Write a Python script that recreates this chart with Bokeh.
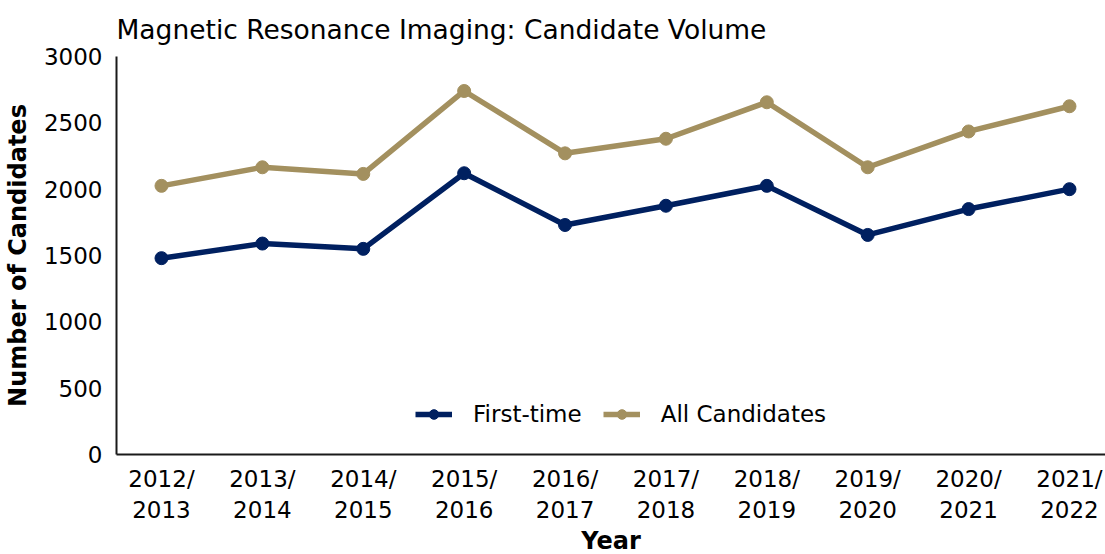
from bokeh.plotting import figure
from bokeh.models import Range1d, FixedTicker, Legend, LegendItem
from bokeh.embed import file_html
from bokeh.resources import INLINE

years = ["2012/\n2013", "2013/\n2014", "2014/\n2015", "2015/\n2016", "2016/\n2017",
         "2017/\n2018", "2018/\n2019", "2019/\n2020", "2020/\n2021", "2021/\n2022"]
first_time = [1480, 1590, 1550, 2120, 1730, 1875, 2025, 1655, 1850, 2000]
all_candidates = [2025, 2165, 2115, 2740, 2270, 2380, 2655, 2165, 2435, 2625]
y_ticks = [0, 500, 1000, 1500, 2000, 2500, 3000]

NAVY = "#002060"
TAN = "#A3905F"
FONT = "DejaVu Sans"

x = list(range(len(years)))

p = figure(frame_width=989, frame_height=398, output_backend="svg", toolbar_location=None,
           x_range=Range1d(-0.446, 9.357), y_range=Range1d(0, 3000),
           min_border_left=108, min_border_right=0, min_border_top=49,
           min_border_bottom=0)

p.title.text = "Magnetic Resonance Imaging: Candidate Volume"
p.title.text_font = FONT
p.title.text_font_size = "26.5px"
p.title.text_font_style = "normal"
p.title.text_color = "#000000"
p.title.standoff = 23
p.title.offset = 0

p.outline_line_color = None
p.xgrid.grid_line_color = None
p.ygrid.grid_line_color = None

l1 = p.line(x, first_time, line_color=NAVY, line_width=5.5)
s1 = p.scatter(x, first_time, size=13, fill_color=NAVY, line_color=NAVY)
l2 = p.line(x, all_candidates, line_color=TAN, line_width=5.5)
s2 = p.scatter(x, all_candidates, size=13, fill_color=TAN, line_color=TAN)

# x axis
xa = p.xaxis[0]
xa.ticker = FixedTicker(ticks=x)
xa.major_label_overrides = {i: lab for i, lab in zip(x, years)}
xa.major_tick_line_color = None
xa.minor_tick_line_color = None
xa.major_tick_out = 0
xa.major_tick_in = 0
xa.minor_tick_out = 0
xa.axis_line_color = "#1a1a1a"
xa.axis_line_width = 2
xa.major_label_text_font = FONT
xa.major_label_text_font_size = "23px"
xa.major_label_text_color = "#000000"
xa.major_label_standoff = 11
xa.axis_label = "Year"
xa.axis_label_text_font = FONT
xa.axis_label_text_font_size = "24px"
xa.axis_label_text_font_style = "bold"
xa.axis_label_text_color = "#000000"
xa.axis_label_standoff = 1

# y axis
ya = p.yaxis[0]
ya.ticker = FixedTicker(ticks=y_ticks)
ya.major_tick_line_color = None
ya.minor_tick_line_color = None
ya.major_tick_out = 0
ya.major_tick_in = 0
ya.minor_tick_out = 0
ya.axis_line_color = "#1a1a1a"
ya.axis_line_width = 2
ya.major_label_text_font = FONT
ya.major_label_text_font_size = "23px"
ya.major_label_text_color = "#000000"
ya.major_label_standoff = 14
ya.axis_label = "Number of Candidates"
ya.axis_label_text_font = FONT
ya.axis_label_text_font_size = "24px"
ya.axis_label_text_font_style = "bold"
ya.axis_label_text_color = "#000000"
ya.axis_label_standoff = 9

legend = Legend(items=[LegendItem(label="First-time", renderers=[l1, s1]),
                       LegendItem(label="All Candidates", renderers=[l2, s2])],
                orientation="horizontal", location=(299, 27),
                glyph_width=37, glyph_height=24, label_height=24,
                label_standoff=21, spacing=21, padding=0, margin=0,
                border_line_color=None, background_fill_alpha=0,
                label_text_font=FONT, label_text_font_size="23px",
                label_text_color="#000000")
p.add_layout(legend)

open("out.html", "w").write(file_html(p, INLINE))
